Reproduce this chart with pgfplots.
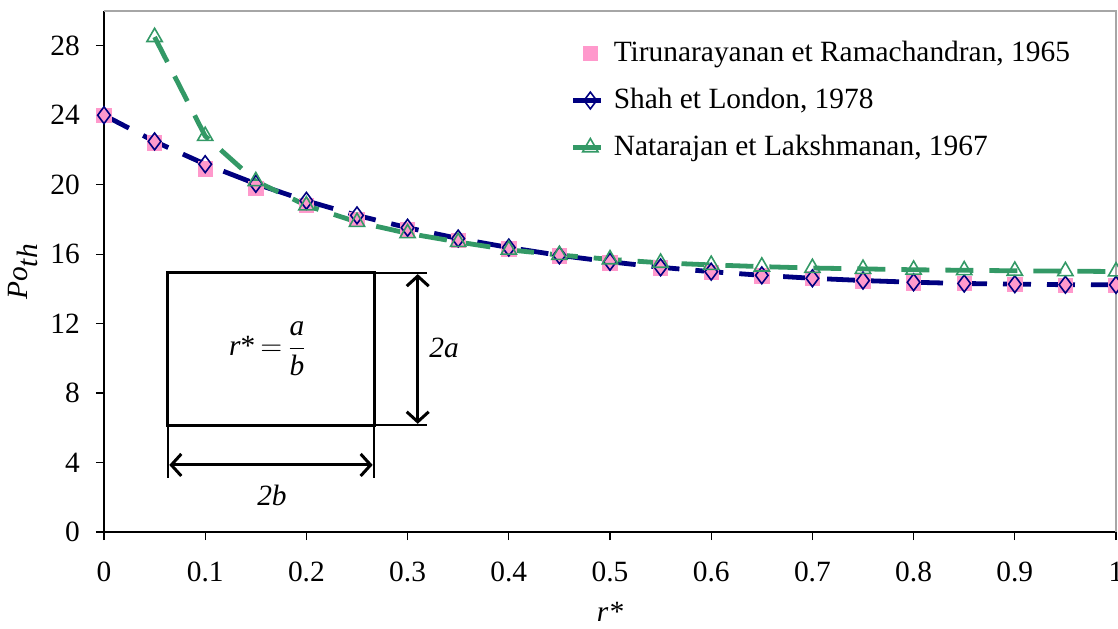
\documentclass[border=0pt]{standalone}
\usepackage{pgfplots}
\pgfplotsset{compat=1.18}
\usepackage{pgfplotstable}
\usepackage{fontspec}
\setmainfont{Liberation Serif}
\usetikzlibrary{arrows.meta}
\definecolor{navyline}{RGB}{0,0,128}
\definecolor{seagreen}{RGB}{51,153,102}
\definecolor{pinkmark}{RGB}{255,153,204}

% Tirunarayanan et Ramachandran, 1965
\pgfplotstableread{
x y
0 24.0
0.05 22.4
0.10 20.9
0.15 19.8
0.20 18.8
0.25 18.0
0.30 17.4
0.35 16.8
0.40 16.3
0.45 15.9
0.50 15.5
0.55 15.2
0.60 14.95
0.65 14.75
0.70 14.6
0.75 14.45
0.80 14.35
0.85 14.3
0.90 14.25
0.95 14.2
1.00 14.2
}\tiru
% Shah et London, 1978
\pgfplotstableread{
x y
0 24.0
0.05 22.49
0.10 21.18
0.15 20.05
0.20 19.07
0.25 18.23
0.30 17.52
0.35 16.90
0.40 16.38
0.45 15.93
0.50 15.56
0.55 15.24
0.60 14.99
0.65 14.78
0.70 14.61
0.75 14.48
0.80 14.38
0.85 14.31
0.90 14.27
0.95 14.24
1.00 14.23
}\shah
% Natarajan et Lakshmanan, 1967
\pgfplotstableread{
x y
0.05 28.5
0.10 22.8
0.15 20.2
0.20 18.8
0.25 17.85
0.30 17.2
0.35 16.7
0.40 16.25
0.45 15.95
0.50 15.7
0.55 15.5
0.60 15.38
0.65 15.28
0.70 15.2
0.75 15.15
0.80 15.1
0.85 15.07
0.90 15.04
0.95 15.02
1.00 15.0
}\nata

\begin{document}
\fontsize{14.7pt}{17pt}\selectfont
\begin{tikzpicture}
\begin{axis}[
  scale only axis, width=506pt, height=260.5pt,
  xmin=0, xmax=1, ymin=0, ymax=30,
  xtick={0,0.1,...,1.0},
  xticklabels={0,0.1,0.2,0.3,0.4,0.5,0.6,0.7,0.8,0.9,1},
  ytick={0,4,...,28},
  axis x line*=bottom, axis y line*=left,
  axis line style={black, line width=0.8pt},
  tick align=outside, major tick length=4pt,
  tick style={black, line width=0.6pt},
  /pgf/number format/assume math mode=true,
  xticklabel style={yshift=-6pt},
  yticklabel style={xshift=-3pt},
  xlabel={\textit{r*}}, ylabel={\textit{Po}$_{\textit{th}}$},
  xlabel style={at={(0.5,0)}, anchor=north, yshift=-30pt},
  ylabel style={at={(0,0.5)}, anchor=south, yshift=28pt},
  clip=false,
  legend style={at={(0.455,0.958)}, anchor=north west, draw=none, fill=none,
    row sep=7pt, font=\fontsize{14.7pt}{17pt}\selectfont},
  legend cell align=left,
]
\addplot[only marks, mark=square*, mark size=3.6pt, draw=pinkmark, fill=pinkmark]
  table[x=x, y=y] {\tiru};
\addlegendentry{Tirunarayanan et Ramachandran, 1965}
\addplot[navyline, line width=2.4pt, dash pattern=on 14pt off 8pt,
  mark=diamond, mark size=4.2pt, mark options={solid, line width=0.8pt}]
  table[x=x, y=y] {\shah};
\addlegendentry{Shah et London, 1978}
\addplot[seagreen, line width=2.4pt, dash pattern=on 14pt off 8pt,
  mark=triangle, mark size=4.4pt, mark options={solid, line width=0.8pt}]
  table[x=x, y=y] {\nata};
\addlegendentry{Natarajan et Lakshmanan, 1967}

% gray frame on top and right
\draw[gray!70, line width=0.6pt] (rel axis cs:0,1) -- (rel axis cs:1,1) -- (rel axis cs:1,0);

% inset sketch of the duct section
\draw[line width=1.5pt] (axis cs:0.0632,14.92) rectangle (axis cs:0.2668,6.16);
\draw[line width=0.7pt] (axis cs:0.2668,14.92) -- (axis cs:0.3195,14.92);
\draw[line width=0.7pt] (axis cs:0.2668,6.16) -- (axis cs:0.3195,6.16);
\draw[line width=0.7pt] (axis cs:0.0632,6.16) -- (axis cs:0.0632,3.11);
\draw[line width=0.7pt] (axis cs:0.2668,6.16) -- (axis cs:0.2668,3.11);
\draw[line width=1.5pt, {Straight Barb[length=5pt,width=11pt]}-{Straight Barb[length=5pt,width=11pt]}]
  (axis cs:0.310,14.85) -- (axis cs:0.310,6.23);
\draw[line width=1.5pt, {Straight Barb[length=5pt,width=11pt]}-{Straight Barb[length=5pt,width=11pt]}]
  (axis cs:0.0645,3.86) -- (axis cs:0.2655,3.86);
\node at (axis cs:0.162,10.55) {\textit{r}*\,$=$\,$\displaystyle\frac{\textit{a}}{\textit{b}}$};
\node at (axis cs:0.336,10.6) {\textit{2a}};
\node at (axis cs:0.166,2.1) {\textit{2b}};
\end{axis}
\pgfresetboundingbox
\path[use as bounding box] (current axis.south west) ++(-52pt,-48pt) rectangle ++(559pt,314pt);
\end{tikzpicture}
\end{document}
